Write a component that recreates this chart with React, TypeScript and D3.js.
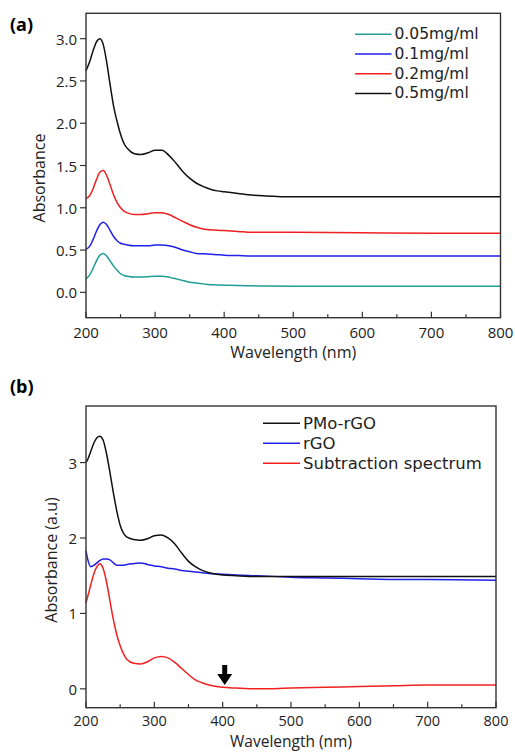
import React from "react";
import * as d3 from "d3";

// ---------- Panel (a) data ----------
const WL_A = [200, 205, 210, 215, 220, 225, 230, 235, 240, 245, 250, 255, 260, 270, 280, 290, 300, 310, 320, 330, 340, 350, 360, 370, 380, 390, 400, 420, 440, 460, 500, 600, 700, 800];
const A_005 = [0.16, 0.2, 0.28, 0.37, 0.44, 0.46, 0.43, 0.37, 0.31, 0.26, 0.22, 0.2, 0.19, 0.18, 0.18, 0.185, 0.19, 0.19, 0.18, 0.16, 0.14, 0.12, 0.11, 0.1, 0.09, 0.088, 0.085, 0.08, 0.077, 0.075, 0.073, 0.072, 0.072, 0.072];
const A_01 = [0.51, 0.54, 0.62, 0.72, 0.8, 0.83, 0.8, 0.73, 0.66, 0.61, 0.58, 0.57, 0.56, 0.55, 0.55, 0.55, 0.56, 0.56, 0.55, 0.53, 0.5, 0.48, 0.46, 0.455, 0.45, 0.445, 0.44, 0.435, 0.43, 0.43, 0.43, 0.43, 0.43, 0.43];
const A_02 = [1.11, 1.14, 1.22, 1.33, 1.42, 1.44, 1.38, 1.27, 1.15, 1.06, 1.0, 0.96, 0.94, 0.92, 0.92, 0.93, 0.94, 0.94, 0.92, 0.88, 0.84, 0.8, 0.77, 0.75, 0.74, 0.735, 0.73, 0.72, 0.71, 0.71, 0.71, 0.705, 0.7, 0.7];
const A_05 = [2.62, 2.72, 2.85, 2.96, 3.0, 2.93, 2.72, 2.45, 2.2, 2.02, 1.87, 1.76, 1.7, 1.64, 1.63, 1.65, 1.68, 1.68, 1.62, 1.53, 1.43, 1.35, 1.29, 1.25, 1.22, 1.2, 1.19, 1.17, 1.15, 1.14, 1.13, 1.13, 1.13, 1.13];
const LEGEND_A = ["0.05mg/ml", "0.1mg/ml", "0.2mg/ml", "0.5mg/ml"];
const COLORS_A = ["#1f9e96", "#2020e8", "#f02020", "#111111"];
const YTICKS_A = [0, 0.5, 1.0, 1.5, 2.0, 2.5, 3.0];

// ---------- Panel (b) data ----------
const WL_B = [200, 203, 207, 212, 216, 220, 225, 230, 235, 240, 245, 250, 255, 260, 270, 280, 290, 300, 310, 320, 330, 340, 350, 360, 370, 380, 400, 420, 450, 500, 550, 600, 650, 700, 800];
const B_PMO = [3.0, 3.05, 3.15, 3.27, 3.33, 3.35, 3.3, 3.12, 2.87, 2.6, 2.36, 2.17, 2.06, 2.01, 1.98, 1.97, 1.99, 2.03, 2.04, 2.0, 1.92, 1.8, 1.69, 1.62, 1.57, 1.54, 1.51, 1.5, 1.49, 1.49, 1.49, 1.49, 1.49, 1.49, 1.49];
const B_RGO = [1.83, 1.7, 1.62, 1.64, 1.67, 1.7, 1.72, 1.72, 1.71, 1.67, 1.64, 1.64, 1.64, 1.65, 1.66, 1.67, 1.65, 1.63, 1.62, 1.6, 1.59, 1.57, 1.56, 1.55, 1.54, 1.53, 1.52, 1.51, 1.5, 1.48, 1.47, 1.46, 1.45, 1.45, 1.44];
const B_SUB = [1.14, 1.24, 1.38, 1.54, 1.62, 1.66, 1.6, 1.42, 1.17, 0.92, 0.72, 0.57, 0.46, 0.39, 0.34, 0.33, 0.36, 0.41, 0.43, 0.41, 0.35, 0.27, 0.19, 0.12, 0.08, 0.05, 0.02, 0.01, 0.0, 0.01, 0.02, 0.03, 0.04, 0.05, 0.05];
const LEGEND_B = ["PMo-rGO", "rGO", "Subtraction spectrum"];
const COLORS_B = ["#111111", "#2020e8", "#f02020"];
const YTICKS_B = [0, 1, 2, 3];
const ARROW_WL = 403;

const XTICKS = [200, 300, 400, 500, 600, 700, 800];
const XMINOR = [250, 350, 450, 550, 650, 750];

const FONT = "'Open Sans', 'Noto Sans', sans-serif";
const LEGEND_FONT = "'DejaVu Sans', sans-serif";

type PanelProps = {
  left: number; right: number; top: number; bottom: number;
  yDomain: [number, number];
  yTicks: number[];
  yFmt: (v: number) => string;
  wl: number[];
  series: number[][];
  colors: string[];
  drawOrder: number[];
  yLabel: string;
  yLabelX: number;
  yLabelCy: number;
  xLabelY: number;
  xLabelFont: number;
  tickLabelY: number;
  tickFont: number;
  panelLabel: string;
  panelLabelY: number;
  legend: string[];
  legendColors: string[];
  legendX1: number; legendX2: number; legendY0: number; legendDy: number; legendFont: number;
  children?: React.ReactNode;
};

function Panel(p: PanelProps) {
  const x = d3.scaleLinear().domain([200, 800]).range([p.left, p.right]);
  const y = d3.scaleLinear().domain(p.yDomain).range([p.bottom, p.top]);
  const line = d3.line<number>()
    .x((_, i) => x(p.wl[i]))
    .y((d) => y(d))
    .curve(d3.curveMonotoneX);
  const axisColor = "#333";
  return (
    <g>
      <text x={10} y={p.panelLabelY} fontFamily={FONT} fontWeight="bold" fontSize={18} fill="#000">{p.panelLabel}</text>
      {p.drawOrder.map((k) => (
        <path key={k} d={line(p.series[k]) || ""} fill="none" stroke={p.colors[k]} strokeWidth={1.5} />
      ))}
      <rect x={p.left} y={p.top} width={p.right - p.left} height={p.bottom - p.top} fill="none" stroke={axisColor} strokeWidth={1.4} />
      {XTICKS.map((t) => (
        <g key={"xt" + t}>
          <line x1={x(t)} x2={x(t)} y1={p.bottom} y2={p.bottom - 6} stroke={axisColor} strokeWidth={1.2} />
          <text x={x(t)} y={p.tickLabelY} textAnchor="middle" dominantBaseline="central" fontFamily={FONT} fontSize={p.tickFont} fill="#222">{t}</text>
        </g>
      ))}
      {XMINOR.map((t) => (
        <line key={"xm" + t} x1={x(t)} x2={x(t)} y1={p.bottom} y2={p.bottom - 3.5} stroke={axisColor} strokeWidth={1.2} />
      ))}
      {p.yTicks.map((t) => (
        <g key={"yt" + t}>
          <line x1={p.left} x2={p.left - 6} y1={y(t)} y2={y(t)} stroke={axisColor} strokeWidth={1.2} />
          <text x={p.left - 9} y={y(t)} textAnchor="end" dominantBaseline="central" fontFamily={FONT} fontSize={15} fill="#222">{p.yFmt(t)}</text>
        </g>
      ))}
      <text x={(p.left + p.right) / 2} y={p.xLabelY} textAnchor="middle" dominantBaseline="central" fontFamily={FONT} fontSize={p.xLabelFont} fill="#222">Wavelength (nm)</text>
      <text transform={`translate(${p.yLabelX},${p.yLabelCy}) rotate(-90)`} textAnchor="middle" dominantBaseline="central" fontFamily={FONT} fontSize={16} fill="#222">{p.yLabel}</text>
      {p.legend.map((lab, i) => (
        <g key={"lg" + i}>
          <line x1={p.legendX1} x2={p.legendX2} y1={p.legendY0 + i * p.legendDy} y2={p.legendY0 + i * p.legendDy} stroke={p.legendColors[i]} strokeWidth={1.5} />
          <text x={p.legendX2 + 3} y={p.legendY0 + i * p.legendDy} dominantBaseline="central" fontFamily={LEGEND_FONT} fontSize={p.legendFont} fill="#222">{lab}</text>
        </g>
      ))}
      {p.children}
    </g>
  );
}

export default function App() {
  const xb = d3.scaleLinear().domain([200, 800]).range([86, 496]);
  const ax = xb(ARROW_WL);
  const arrowTop = 665, arrowTip = 685;
  const arrowPath = `M${ax - 2.5},${arrowTop} L${ax + 2.5},${arrowTop} L${ax + 2.5},${arrowTop + 9} L${ax + 7.5},${arrowTop + 9} L${ax},${arrowTip} L${ax - 7.5},${arrowTop + 9} L${ax - 2.5},${arrowTop + 9} Z`;
  return (
    <svg width={515} height={752} style={{ position: "absolute", left: 0, top: 0, background: "#fff" }}>
      <rect width={515} height={752} fill="#fff" />
      <Panel
        left={86} right={500.5} top={13.3} bottom={317.7}
        yDomain={[-0.3, 3.3]} yTicks={YTICKS_A} yFmt={(v) => v.toFixed(1)}
        wl={WL_A} series={[A_005, A_01, A_02, A_05]} colors={COLORS_A} drawOrder={[0, 1, 2, 3]}
        yLabel="Absorbance" yLabelX={39} yLabelCy={178} xLabelY={352} xLabelFont={16} tickLabelY={332} tickFont={15}
        panelLabel="(a)" panelLabelY={31}
        legend={LEGEND_A} legendColors={COLORS_A}
        legendX1={355} legendX2={391.5} legendY0={34.3} legendDy={19.7} legendFont={15.5}
      />
      <Panel
        left={86} right={496} top={406} bottom={707.7}
        yDomain={[-0.25, 3.75]} yTicks={YTICKS_B} yFmt={(v) => String(v)}
        wl={WL_B} series={[B_PMO, B_RGO, B_SUB]} colors={COLORS_B} drawOrder={[2, 1, 0]}
        yLabel="Absorbance (a.u)" yLabelX={51} yLabelCy={560} xLabelY={741} xLabelFont={15.5} tickLabelY={720} tickFont={14.5}
        panelLabel="(b)" panelLabelY={393}
        legend={LEGEND_B} legendColors={COLORS_B}
        legendX1={263} legendX2={300} legendY0={423.3} legendDy={20} legendFont={16.5}
      >
        <path d={arrowPath} fill="#000" />
      </Panel>
    </svg>
  );
}
